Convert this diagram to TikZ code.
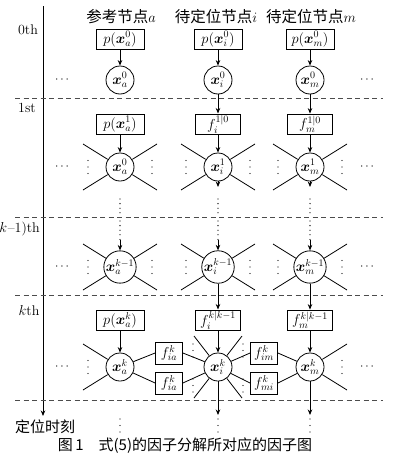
\documentclass[tikz,border=0pt]{standalone}
\usepackage{fontspec}
\usepackage{bm}
\newfontfamily\cjk{Noto Sans CJK SC}
\usetikzlibrary{arrows.meta}
\begin{document}
\begin{tikzpicture}[x=1pt,y=-1pt,
  ln/.style={line width=0.8pt},
  arr/.style={ln,-{Stealth[length=5.5pt,width=4.5pt]}},
  sidedots/.style={line width=1.4pt,dash pattern=on 0pt off 6.5pt,line cap=round},
  linkdots/.style={line width=1.3pt,dash pattern=on 0pt off 4.6pt,line cap=round},
  sep/.style={line width=0.9pt,black!70,dash pattern=on 5pt off 3.5pt},
  var/.style={circle,draw,ln,minimum size=28pt,inner sep=0pt,font=\fontsize{14.5}{14}\selectfont},
  pbox/.style={rectangle,draw,ln,minimum width=48pt,minimum height=20pt,inner sep=1pt,font=\fontsize{14.5}{14}\selectfont},
  fbox/.style={pbox,minimum width=45pt},
  sbox/.style={rectangle,draw,ln,minimum width=27pt,minimum height=22pt,inner sep=0pt,font=\fontsize{14.5}{14}\selectfont},
  hd/.style={font=\cjk\fontsize{15.5}{16}\selectfont},
  cp/.style={font=\cjk\fontsize{15}{16}\selectfont},
  lbl/.style={font=\fontsize{14}{14}\selectfont},
  ell/.style={font=\fontsize{13}{13}\selectfont},
]
\useasboundingbox (0,0) rectangle (414,458);

% time axis
\coordinate (axtop) at (43,6);
\coordinate (axbot) at (43,416);
\draw[arr] (axtop) -- (axbot);

% separators
\foreach \n/\y in {s0/98,s1/217,s2/295,s3/400} {
  \coordinate (\n L) at (15,\y);
  \coordinate (\n R) at (383,\y);
  \draw[sep] (\n L) -- (\n R);
}

% row labels
\node[lbl] (l0) at (28,30) {0th};
\node[lbl] (l1) at (27,108) {1st};
\node[lbl,anchor=east,inner sep=0pt] (l2) at (40,229) {(\kern-0.5pt$k$\kern0.5pt--1)th};
\node[lbl] (l3) at (29,311) {$k$th};
\node[cp] (laxis) at (45,427) {定位时刻};

% headers
\node[hd] (ha) at (121,17) {参考节点$a$};
\node[hd] (hi) at (216,17) {待定位节点$i$};
\node[hd] (hm) at (311,17) {待定位节点$m$};

% row 0
\node[pbox] (p0a) at (120,39) {$p(\bm{x}_a^0)$};
\node[pbox] (p0i) at (218,39) {$p(\bm{x}_i^0)$};
\node[pbox] (p0m) at (310,39) {$p(\bm{x}_m^0)$};
\node[var] (x0a) at (120,80) {$\bm{x}_a^0$};
\node[var] (x0i) at (218,80) {$\bm{x}_i^0$};
\node[var] (x0m) at (310,80) {$\bm{x}_m^0$};

% row 1
\node[pbox] (p1a) at (120,124) {$p(\bm{x}_a^1)$};
\node[fbox] (f1i) at (218,124) {$f_i^{1|0}$};
\node[fbox] (f1m) at (310,124) {$f_m^{1|0}$};
\node[var] (x1a) at (120,167) {$\bm{x}_a^0$};
\node[var] (x1i) at (218,167) {$\bm{x}_i^1$};
\node[var] (x1m) at (310,167) {$\bm{x}_m^1$};

% row k-1
\node[var] (xpa) at (120,267) {$\bm{x}_a^{k-1}$};
\node[var] (xpi) at (218,267) {$\bm{x}_i^{k-1}$};
\node[var] (xpm) at (310,267) {$\bm{x}_m^{k-1}$};

% row k
\node[pbox] (pka) at (120,320) {$p(\bm{x}_a^k)$};
\node[fbox] (fki) at (218,320) {$f_i^{k|k-1}$};
\node[fbox] (fkm) at (310,320) {$f_m^{k|k-1}$};
\node[var] (xka) at (120,367) {$\bm{x}_a^k$};
\node[var] (xki) at (218,367) {$\bm{x}_i^k$};
\node[var] (xkm) at (310,367) {$\bm{x}_m^k$};
\node[sbox] (fia1) at (169,353) {$f_{ia}^k$};
\node[sbox] (fia2) at (169,383) {$f_{ia}^k$};
\node[sbox] (fim) at (264,353) {$f_{im}^k$};
\node[sbox] (fmi) at (264,383) {$f_{mi}^k$};

% horizontal ellipses
\foreach \r/\y in {0/80,1/167,2/267,3/367} {
  \node[ell] (el\r) at (62,\y) {$\cdots$};
  \node[ell] (er\r) at (367,\y) {$\cdots$};
}

% row 0 / row 1 arrows
\foreach \c in {a,i,m} {
  \draw[arr] (p0\c) -- (x0\c);
}
\draw[arr] (x0i) -- (f1i);
\draw[arr] (x0m) -- (f1m);
\draw[arr] (p1a) -- (x1a);
\draw[arr] (f1i) -- (x1i);
\draw[arr] (f1m) -- (x1m);

% spokes and side dots for rows 1 and k-1
\foreach \n in {x1a,x1i,x1m,xpa,xpi,xpm} {
  \path (\n) ++(-37,-23) coordinate (\n ul);
  \path (\n) ++(37,-23) coordinate (\n ur);
  \path (\n) ++(-37,23) coordinate (\n dl);
  \path (\n) ++(37,23) coordinate (\n dr);
  \draw[ln] (\n) -- (\n ul);
  \draw[ln] (\n) -- (\n ur);
  \draw[ln] (\n) -- (\n dl);
  \draw[ln] (\n) -- (\n dr);
  \path (\n) ++(-32,-6.5) coordinate (\n lt) ++(0,13.2) coordinate (\n lb);
  \path (\n) ++(32,-6.5) coordinate (\n rt) ++(0,13.2) coordinate (\n rb);
  \draw[sidedots] (\n lt) -- (\n lb);
  \draw[sidedots] (\n rt) -- (\n rb);
}

% links between row 1 and row k-1
\foreach \c/\x in {a/120,i/218,m/310} {
  \coordinate (u\c1) at (\x,199);
  \coordinate (u\c2) at (\x,214);
  \coordinate (u\c3) at (\x,221);
  \coordinate (u\c4) at (\x,240);
  \draw[linkdots] (u\c1) -- (u\c2);
  \draw[linkdots] (u\c3) -- (u\c4);
  \draw[arr] (u\c4) -- (xp\c);
}
\coordinate (ti) at (218,187);
\coordinate (tm) at (310,187);
\draw[arr] (x1i) -- (ti);
\draw[arr] (x1m) -- (tm);

% row k-1 to row k
\draw[arr] (xpi) -- (fki);
\draw[arr] (xpm) -- (fkm);
\draw[arr] (pka) -- (xka);
\draw[arr] (fki) -- (xki);
\draw[arr] (fkm) -- (xkm);

% factor links in row k
\draw[ln] (xka) -- (fia1.west);
\draw[ln] (xka) -- (fia2.west);
\draw[ln] (fia1.east) -- (xki);
\draw[ln] (fia2.east) -- (xki);
\draw[ln] (xki) -- (fim.west);
\draw[ln] (xki) -- (fmi.west);
\draw[ln] (fim.east) -- (xkm);
\draw[ln] (fmi.east) -- (xkm);

% spokes in row k
\path (xka) ++(-37,-23) coordinate (kaul);
\path (xka) ++(-37,23) coordinate (kadl);
\draw[ln] (xka) -- (kaul);
\draw[ln] (xka) -- (kadl);
\path (xka) ++(-32,-6.5) coordinate (kalt) ++(0,13.2) coordinate (kalb);
\draw[sidedots] (kalt) -- (kalb);

\path (xkm) ++(37,-23) coordinate (kmur);
\path (xkm) ++(37,23) coordinate (kmdr);
\draw[ln] (xkm) -- (kmur);
\draw[ln] (xkm) -- (kmdr);
\path (xkm) ++(32,-6.5) coordinate (kmrt) ++(0,13.2) coordinate (kmrb);
\draw[sidedots] (kmrt) -- (kmrb);

\path (xki) ++(-24,-31) coordinate (kiul);
\path (xki) ++(24,-31) coordinate (kiur);
\path (xki) ++(-24,31) coordinate (kidl);
\path (xki) ++(24,31) coordinate (kidr);
\draw[ln] (xki) -- (kiul);
\draw[ln] (xki) -- (kiur);
\draw[ln] (xki) -- (kidl);
\draw[ln] (xki) -- (kidr);
\foreach \n/\x/\y in {d1/193/344,d2/243/344,d3/193/379,d4/243/379} {
  \coordinate (\n t) at (\x,\y);
  \coordinate (\n b) at (\x,\y+13.2);
  \draw[sidedots] (\n t) -- (\n b);
}

% below row k
\coordinate (bi) at (218,415);
\coordinate (bm) at (310,415);
\draw[arr] (xki) -- (bi);
\draw[arr] (xkm) -- (bm);
\foreach \c/\x in {a/120,i/218,m/310} {
  \coordinate (e\c1) at (\x,419);
  \coordinate (e\c2) at (\x,432.2);
  \draw[sidedots] (e\c1) -- (e\c2);
}

% caption
\node[cp] (cap) at (185,446) {图\,1\quad 式(5)的因子分解所对应的因子图};
\end{tikzpicture}
\end{document}
